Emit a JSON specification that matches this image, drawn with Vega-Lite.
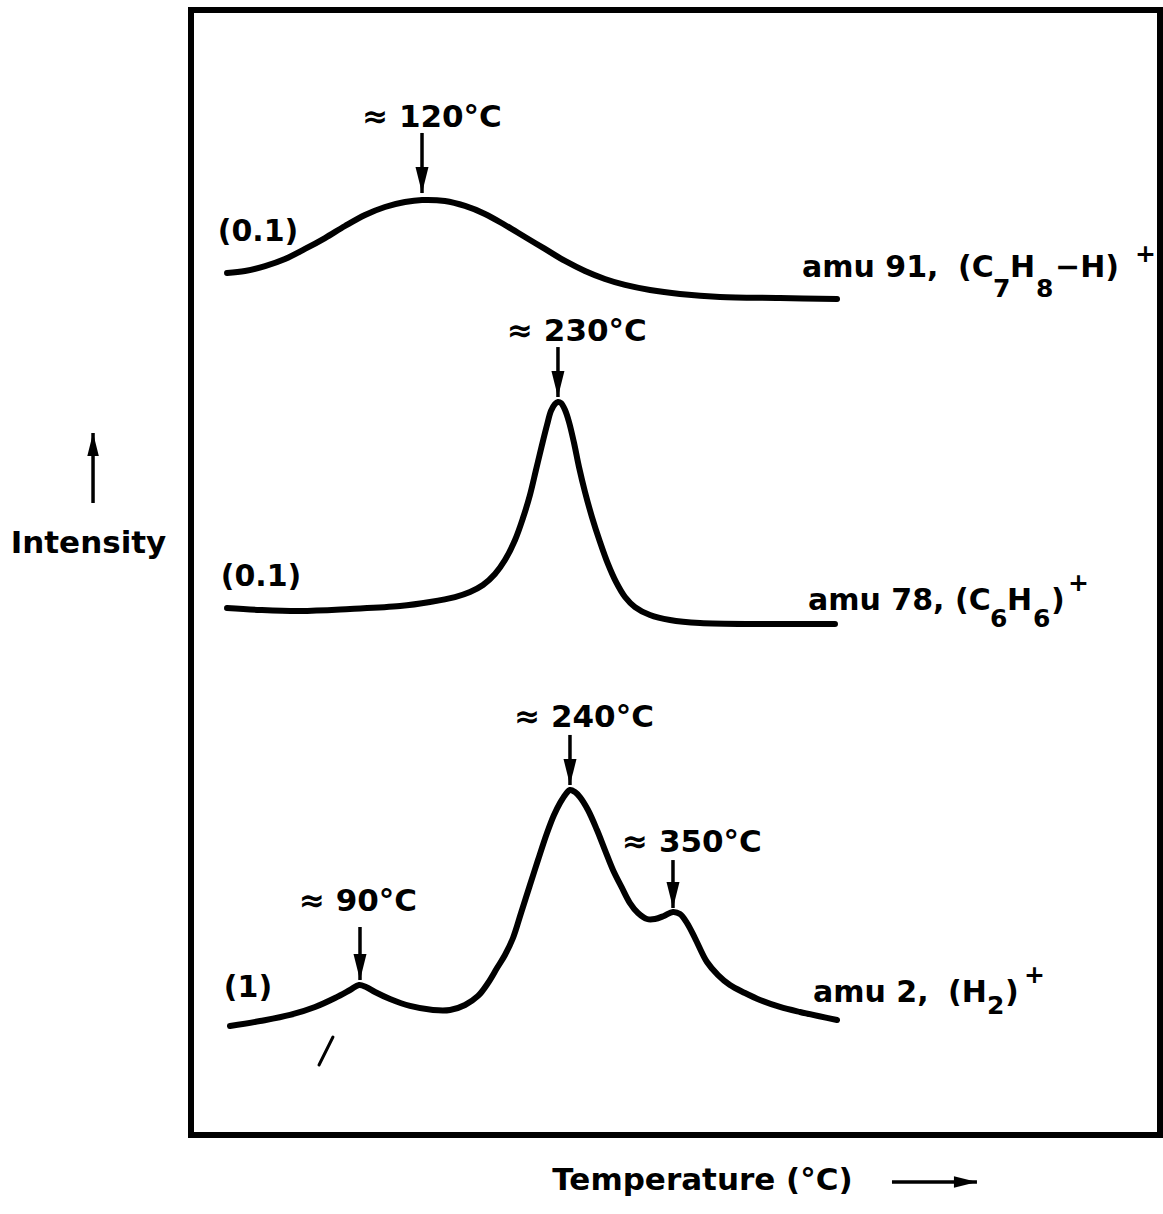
{
  "$schema": "https://vega.github.io/schema/vega-lite/v6.json",
  "width": 969,
  "height": 1125,
  "autosize": {"type": "none"},
  "padding": {"left": 191, "top": 10, "right": 3, "bottom": 79},
  "background": "white",
  "config": {
    "view": {"stroke": "black", "strokeWidth": 6},
    "font": "DejaVu Sans",
    "text": {"font": "DejaVu Sans", "fontWeight": "bold", "fontSize": 31, "color": "black"}
  },
  "datasets": {
    "curves": [
      {"series": "amu 91", "t": 3.72, "i": 76.62},
      {"series": "amu 91", "t": 5.57, "i": 76.80},
      {"series": "amu 91", "t": 7.64, "i": 77.24},
      {"series": "amu 91", "t": 9.70, "i": 77.87},
      {"series": "amu 91", "t": 11.76, "i": 78.76},
      {"series": "amu 91", "t": 13.83, "i": 79.73},
      {"series": "amu 91", "t": 15.89, "i": 80.80},
      {"series": "amu 91", "t": 17.96, "i": 81.78},
      {"series": "amu 91", "t": 20.02, "i": 82.49},
      {"series": "amu 91", "t": 22.08, "i": 82.93},
      {"series": "amu 91", "t": 23.84, "i": 83.11},
      {"series": "amu 91", "t": 26.21, "i": 83.02},
      {"series": "amu 91", "t": 28.28, "i": 82.58},
      {"series": "amu 91", "t": 30.34, "i": 81.87},
      {"series": "amu 91", "t": 32.40, "i": 80.89},
      {"series": "amu 91", "t": 34.47, "i": 79.82},
      {"series": "amu 91", "t": 36.53, "i": 78.76},
      {"series": "amu 91", "t": 38.60, "i": 77.69},
      {"series": "amu 91", "t": 40.66, "i": 76.80},
      {"series": "amu 91", "t": 42.72, "i": 76.09},
      {"series": "amu 91", "t": 44.79, "i": 75.56},
      {"series": "amu 91", "t": 47.37, "i": 75.11},
      {"series": "amu 91", "t": 50.46, "i": 74.76},
      {"series": "amu 91", "t": 54.59, "i": 74.49},
      {"series": "amu 91", "t": 60.78, "i": 74.40},
      {"series": "amu 91", "t": 66.67, "i": 74.31},

      {"series": "amu 78", "t": 3.72, "i": 46.84},
      {"series": "amu 78", "t": 7.12, "i": 46.67},
      {"series": "amu 78", "t": 11.25, "i": 46.58},
      {"series": "amu 78", "t": 16.41, "i": 46.76},
      {"series": "amu 78", "t": 21.57, "i": 47.02},
      {"series": "amu 78", "t": 24.66, "i": 47.38},
      {"series": "amu 78", "t": 27.24, "i": 47.82},
      {"series": "amu 78", "t": 28.79, "i": 48.27},
      {"series": "amu 78", "t": 30.13, "i": 48.89},
      {"series": "amu 78", "t": 31.37, "i": 49.87},
      {"series": "amu 78", "t": 32.40, "i": 51.11},
      {"series": "amu 78", "t": 33.44, "i": 52.89},
      {"series": "amu 78", "t": 34.26, "i": 54.84},
      {"series": "amu 78", "t": 34.98, "i": 56.89},
      {"series": "amu 78", "t": 35.60, "i": 59.11},
      {"series": "amu 78", "t": 36.22, "i": 61.33},
      {"series": "amu 78", "t": 36.74, "i": 63.11},
      {"series": "amu 78", "t": 37.15, "i": 64.36},
      {"series": "amu 78", "t": 37.56, "i": 64.98},
      {"series": "amu 78", "t": 37.87, "i": 65.16},
      {"series": "amu 78", "t": 38.18, "i": 65.07},
      {"series": "amu 78", "t": 38.60, "i": 64.44},
      {"series": "amu 78", "t": 39.01, "i": 63.38},
      {"series": "amu 78", "t": 39.53, "i": 61.51},
      {"series": "amu 78", "t": 40.04, "i": 59.38},
      {"series": "amu 78", "t": 40.66, "i": 57.16},
      {"series": "amu 78", "t": 41.38, "i": 54.93},
      {"series": "amu 78", "t": 42.21, "i": 52.71},
      {"series": "amu 78", "t": 43.03, "i": 50.76},
      {"series": "amu 78", "t": 43.86, "i": 49.16},
      {"series": "amu 78", "t": 44.79, "i": 47.82},
      {"series": "amu 78", "t": 45.82, "i": 46.93},
      {"series": "amu 78", "t": 47.37, "i": 46.22},
      {"series": "amu 78", "t": 49.43, "i": 45.78},
      {"series": "amu 78", "t": 52.53, "i": 45.51},
      {"series": "amu 78", "t": 58.72, "i": 45.42},
      {"series": "amu 78", "t": 66.46, "i": 45.42},

      {"series": "amu 2", "t": 4.02, "i": 9.69},
      {"series": "amu 2", "t": 7.12, "i": 10.13},
      {"series": "amu 2", "t": 10.22, "i": 10.67},
      {"series": "amu 2", "t": 12.80, "i": 11.38},
      {"series": "amu 2", "t": 14.86, "i": 12.18},
      {"series": "amu 2", "t": 16.41, "i": 12.89},
      {"series": "amu 2", "t": 17.34, "i": 13.33},
      {"series": "amu 2", "t": 18.06, "i": 13.16},
      {"series": "amu 2", "t": 18.99, "i": 12.71},
      {"series": "amu 2", "t": 20.54, "i": 12.09},
      {"series": "amu 2", "t": 22.60, "i": 11.47},
      {"series": "amu 2", "t": 24.97, "i": 11.11},
      {"series": "amu 2", "t": 26.73, "i": 11.11},
      {"series": "amu 2", "t": 28.28, "i": 11.56},
      {"series": "amu 2", "t": 29.62, "i": 12.36},
      {"series": "amu 2", "t": 30.65, "i": 13.51},
      {"series": "amu 2", "t": 31.58, "i": 14.84},
      {"series": "amu 2", "t": 32.40, "i": 16.00},
      {"series": "amu 2", "t": 33.23, "i": 17.51},
      {"series": "amu 2", "t": 34.06, "i": 19.73},
      {"series": "amu 2", "t": 34.98, "i": 22.22},
      {"series": "amu 2", "t": 35.81, "i": 24.44},
      {"series": "amu 2", "t": 36.74, "i": 26.84},
      {"series": "amu 2", "t": 37.46, "i": 28.44},
      {"series": "amu 2", "t": 38.08, "i": 29.51},
      {"series": "amu 2", "t": 38.60, "i": 30.22},
      {"series": "amu 2", "t": 39.11, "i": 30.67},
      {"series": "amu 2", "t": 39.63, "i": 30.49},
      {"series": "amu 2", "t": 40.14, "i": 30.04},
      {"series": "amu 2", "t": 40.97, "i": 28.89},
      {"series": "amu 2", "t": 41.90, "i": 27.11},
      {"series": "amu 2", "t": 42.72, "i": 25.33},
      {"series": "amu 2", "t": 43.55, "i": 23.56},
      {"series": "amu 2", "t": 44.48, "i": 21.96},
      {"series": "amu 2", "t": 45.30, "i": 20.62},
      {"series": "amu 2", "t": 46.13, "i": 19.73},
      {"series": "amu 2", "t": 47.06, "i": 19.20},
      {"series": "amu 2", "t": 47.88, "i": 19.20},
      {"series": "amu 2", "t": 48.81, "i": 19.47},
      {"series": "amu 2", "t": 49.74, "i": 19.82},
      {"series": "amu 2", "t": 50.46, "i": 19.64},
      {"series": "amu 2", "t": 51.19, "i": 18.84},
      {"series": "amu 2", "t": 52.01, "i": 17.51},
      {"series": "amu 2", "t": 53.25, "i": 15.38},
      {"series": "amu 2", "t": 54.39, "i": 14.22},
      {"series": "amu 2", "t": 55.62, "i": 13.33},
      {"series": "amu 2", "t": 57.17, "i": 12.62},
      {"series": "amu 2", "t": 58.72, "i": 12.00},
      {"series": "amu 2", "t": 60.78, "i": 11.38},
      {"series": "amu 2", "t": 62.85, "i": 10.93},
      {"series": "amu 2", "t": 66.67, "i": 10.22}
    ],
    "peaks": [
      {"label": "≈ 120°C", "t": 23.84, "top": 89.07, "tip": 83.73, "lt": 24.87, "li": 90.40},
      {"label": "≈ 230°C", "t": 37.87, "top": 70.04, "tip": 65.60, "lt": 39.83, "li": 71.38},
      {"label": "≈ 240°C", "t": 39.11, "top": 35.56, "tip": 31.11, "lt": 40.56, "li": 37.07},
      {"label": "≈ 90°C", "t": 17.44, "top": 18.49, "tip": 13.78, "lt": 17.23, "li": 20.71},
      {"label": "≈ 350°C", "t": 49.74, "top": 24.44, "tip": 20.18, "lt": 51.70, "li": 25.96}
    ],
    "scales": [
      {"label": "(0.1)", "t": 6.91, "i": 80.27},
      {"label": "(0.1)", "t": 7.22, "i": 49.60},
      {"label": "(1)", "t": 5.88, "i": 13.07}
    ],
    "names": [
      {"series": "amu 91", "part": "main", "label": "amu 91,", "t": 63.05, "i": 76.27},
      {"series": "amu 91", "part": "main", "label": "(C", "t": 79.15, "i": 76.27},
      {"series": "amu 91", "part": "sub", "label": "7", "t": 82.77, "i": 74.49},
      {"series": "amu 91", "part": "main", "label": "H", "t": 84.52, "i": 76.27},
      {"series": "amu 91", "part": "sub", "label": "8", "t": 87.21, "i": 74.49},
      {"series": "amu 91", "part": "main", "label": "−H)", "t": 89.17, "i": 76.27},
      {"series": "amu 91", "part": "sup", "label": "+", "t": 97.42, "i": 77.60},

      {"series": "amu 78", "part": "main", "label": "amu 78,", "t": 63.67, "i": 46.67},
      {"series": "amu 78", "part": "main", "label": "(C", "t": 78.84, "i": 46.67},
      {"series": "amu 78", "part": "sub", "label": "6", "t": 82.46, "i": 45.16},
      {"series": "amu 78", "part": "main", "label": "H", "t": 84.21, "i": 46.67},
      {"series": "amu 78", "part": "sub", "label": "6", "t": 86.90, "i": 45.16},
      {"series": "amu 78", "part": "main", "label": ")", "t": 88.75, "i": 46.67},
      {"series": "amu 78", "part": "sup", "label": "+", "t": 90.51, "i": 48.36},

      {"series": "amu 2", "part": "main", "label": "amu 2,", "t": 64.19, "i": 11.82},
      {"series": "amu 2", "part": "main", "label": "(H", "t": 78.12, "i": 11.82},
      {"series": "amu 2", "part": "sub", "label": "2", "t": 82.15, "i": 10.76},
      {"series": "amu 2", "part": "main", "label": ")", "t": 84.01, "i": 11.82},
      {"series": "amu 2", "part": "sup", "label": "+", "t": 85.97, "i": 13.51}
    ],
    "yArrow": [{"t": -10.11, "i": 56.18, "i2": 62.40}],
    "xArrow": [{"t": 72.34, "t2": 81.11, "i": -4.18}],
    "mark": [{"t": 14.65, "i": 8.71, "t2": 13.21, "i2": 6.22}]
  },
  "encoding": {
    "x": {"field": "t", "type": "quantitative",
      "scale": {"domain": [0, 100], "nice": false, "zero": false},
      "axis": {"title": "Temperature (°C)", "domain": false, "ticks": false, "labels": false, "grid": false,
        "titleFont": "DejaVu Sans", "titleFontWeight": "bold", "titleFontSize": 31, "titleColor": "black",
        "titleX": 511, "titleY": 45, "titleAlign": "center", "titleBaseline": "middle"}},
    "y": {"field": "i", "type": "quantitative",
      "scale": {"domain": [0, 100], "nice": false, "zero": false},
      "axis": {"title": "Intensity", "titleAngle": 0, "domain": false, "ticks": false, "labels": false, "grid": false,
        "titleFont": "DejaVu Sans", "titleFontWeight": "bold", "titleFontSize": 31, "titleColor": "black",
        "titleX": -103, "titleY": 533, "titleAlign": "center", "titleBaseline": "middle"}}
  },
  "layer": [
    {
      "data": {"name": "curves"},
      "mark": {"type": "line", "interpolate": "catmull-rom", "strokeWidth": 6, "color": "black", "strokeCap": "round", "strokeJoin": "round"},
      "encoding": {"detail": {"field": "series"}}
    },
    {
      "data": {"name": "peaks"},
      "mark": {"type": "rule", "strokeWidth": 3.5, "color": "black"},
      "encoding": {"y": {"field": "top", "type": "quantitative"}, "y2": {"field": "tip"}}
    },
    {
      "data": {"name": "peaks"},
      "mark": {"type": "point", "shape": "M-0.5,-2L0.5,-2L0,0Z", "size": 676, "filled": true, "color": "black", "opacity": 1, "strokeWidth": 0},
      "encoding": {"y": {"field": "tip", "type": "quantitative"}}
    },
    {
      "data": {"name": "peaks"},
      "mark": {"type": "text", "align": "center", "baseline": "middle"},
      "encoding": {"x": {"field": "lt", "type": "quantitative"}, "y": {"field": "li", "type": "quantitative"}, "text": {"field": "label"}}
    },
    {
      "data": {"name": "scales"},
      "mark": {"type": "text", "align": "center", "baseline": "middle", "fontSize": 30},
      "encoding": {"text": {"field": "label"}}
    },
    {
      "data": {"name": "names"},
      "transform": [{"filter": "datum.part === 'main'"}],
      "mark": {"type": "text", "align": "left", "baseline": "alphabetic", "fontSize": 30},
      "encoding": {"text": {"field": "label"}}
    },
    {
      "data": {"name": "names"},
      "transform": [{"filter": "datum.part !== 'main'"}],
      "mark": {"type": "text", "align": "left", "baseline": "alphabetic", "fontSize": 25},
      "encoding": {"text": {"field": "label"}}
    },
    {
      "data": {"name": "yArrow"},
      "mark": {"type": "rule", "strokeWidth": 3.5, "color": "black", "clip": false},
      "encoding": {"y2": {"field": "i2"}}
    },
    {
      "data": {"name": "yArrow"},
      "mark": {"type": "point", "shape": "M-0.5,2L0.5,2L0,0Z", "size": 529, "filled": true, "color": "black", "opacity": 1, "strokeWidth": 0, "clip": false},
      "encoding": {"y": {"field": "i2", "type": "quantitative"}}
    },
    {
      "data": {"name": "xArrow"},
      "mark": {"type": "rule", "strokeWidth": 3.5, "color": "black", "clip": false},
      "encoding": {"x2": {"field": "t2"}}
    },
    {
      "data": {"name": "xArrow"},
      "mark": {"type": "point", "shape": "M-2,-0.5L-2,0.5L0,0Z", "size": 529, "filled": true, "color": "black", "opacity": 1, "strokeWidth": 0, "clip": false},
      "encoding": {"x": {"field": "t2", "type": "quantitative"}}
    },
    {
      "data": {"name": "mark"},
      "mark": {"type": "rule", "strokeWidth": 3, "color": "black", "strokeCap": "round"},
      "encoding": {"x2": {"field": "t2"}, "y2": {"field": "i2"}}
    }
  ]
}
